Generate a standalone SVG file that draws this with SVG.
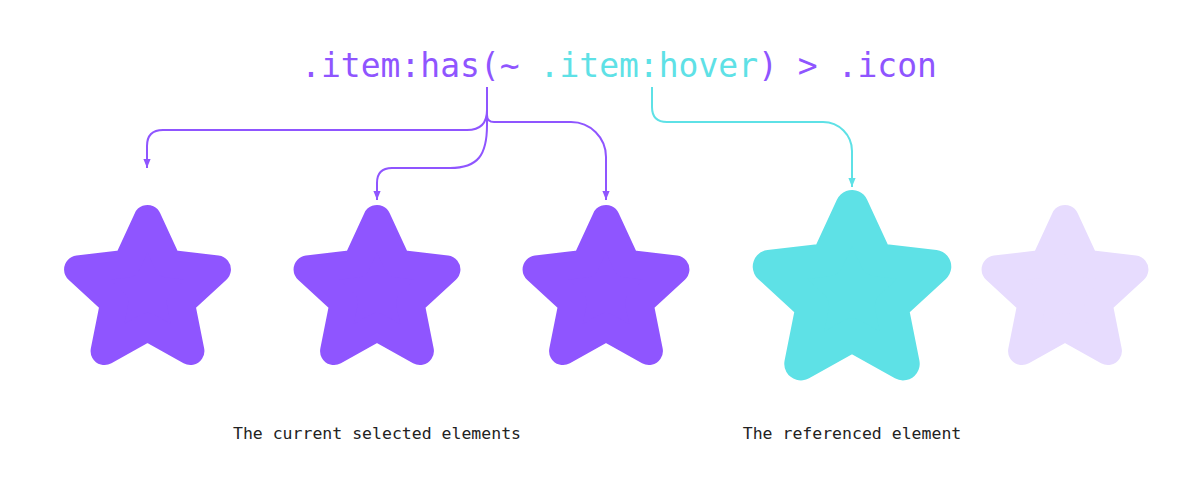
<svg xmlns="http://www.w3.org/2000/svg" width="1200" height="480" viewBox="0 0 1200 480">
  <style>
    .purple { fill: #8f55ff; stroke: #8f55ff; }
    .cyan { fill: #5ee1e6; stroke: #5ee1e6; }
    .lilac { fill: #e7dcfe; stroke: #e7dcfe; }
    .star { stroke-width: 28; stroke-linejoin: round; }
    .line { fill: none; stroke-width: 2; }
    .lp { stroke: #8f55ff; }
    .lc { stroke: #5ee1e6; }
    .title { font-family: "DejaVu Sans Mono", "Liberation Mono", monospace; font-size: 33px; }
    .label { font-family: "DejaVu Sans Mono", "Liberation Mono", monospace; font-size: 16.5px; fill: #222; }
  </style>
  <defs>
    <polygon id="starShape" points="0,-73 20.57,-28.32 69.43,-22.56 33.29,10.82 42.91,59.06 0,35 -42.91,59.06 -33.29,10.82 -69.43,-22.56 -20.57,-28.32"/>
    <marker id="arrowP" viewBox="0 0 10 8" refX="10" refY="4" markerWidth="9" markerHeight="8" markerUnits="userSpaceOnUse" orient="auto">
      <path d="M0,0 L10,4 L0,8 Z" fill="#8f55ff"/>
    </marker>
    <marker id="arrowC" viewBox="0 0 10 8" refX="10" refY="4" markerWidth="9" markerHeight="8" markerUnits="userSpaceOnUse" orient="auto">
      <path d="M0,0 L10,4 L0,8 Z" fill="#5ee1e6"/>
    </marker>
  </defs>

  <g id="selector">
    <text class="title" x="619" y="77" text-anchor="middle"><tspan fill="#8f55ff">.item:has(~ </tspan><tspan fill="#5ee1e6">.item:hover</tspan><tspan fill="#8f55ff">) &gt; .icon</tspan></text>
  </g>

  <g id="connectors">
    <path class="line lp" d="M487,87 V110 Q487,130 467,130 H163 Q147,130 147,146 V168" marker-end="url(#arrowP)"/>
    <path class="line lp" d="M487,110 V125 C487,155 478,168 450,168 H392 Q377,168 377,183 V200" marker-end="url(#arrowP)"/>
    <path class="line lp" d="M487,115 Q487,122 494,122 H571 A35,35 0 0 1 606,157 V200" marker-end="url(#arrowP)"/>
    <path class="line lc" d="M652,87 V107 Q652,122 667,122 H823 A29,29 0 0 1 852,151 V187" marker-end="url(#arrowC)"/>
  </g>

  <g id="star1"><use href="#starShape" class="star purple" transform="translate(147.5,292)"/></g>
  <g id="star2"><use href="#starShape" class="star purple" transform="translate(377,292)"/></g>
  <g id="star3"><use href="#starShape" class="star purple" transform="translate(606,292)"/></g>
  <g id="star4"><use href="#starShape" class="star cyan" transform="translate(852,293.5) scale(1.19)"/></g>
  <g id="star5"><use href="#starShape" class="star lilac" transform="translate(1065,292)"/></g>

  <g id="label-selected"><text class="label" x="377" y="439" text-anchor="middle">The current selected elements</text></g>
  <g id="label-referenced"><text class="label" x="852" y="439" text-anchor="middle">The referenced element</text></g>
</svg>
